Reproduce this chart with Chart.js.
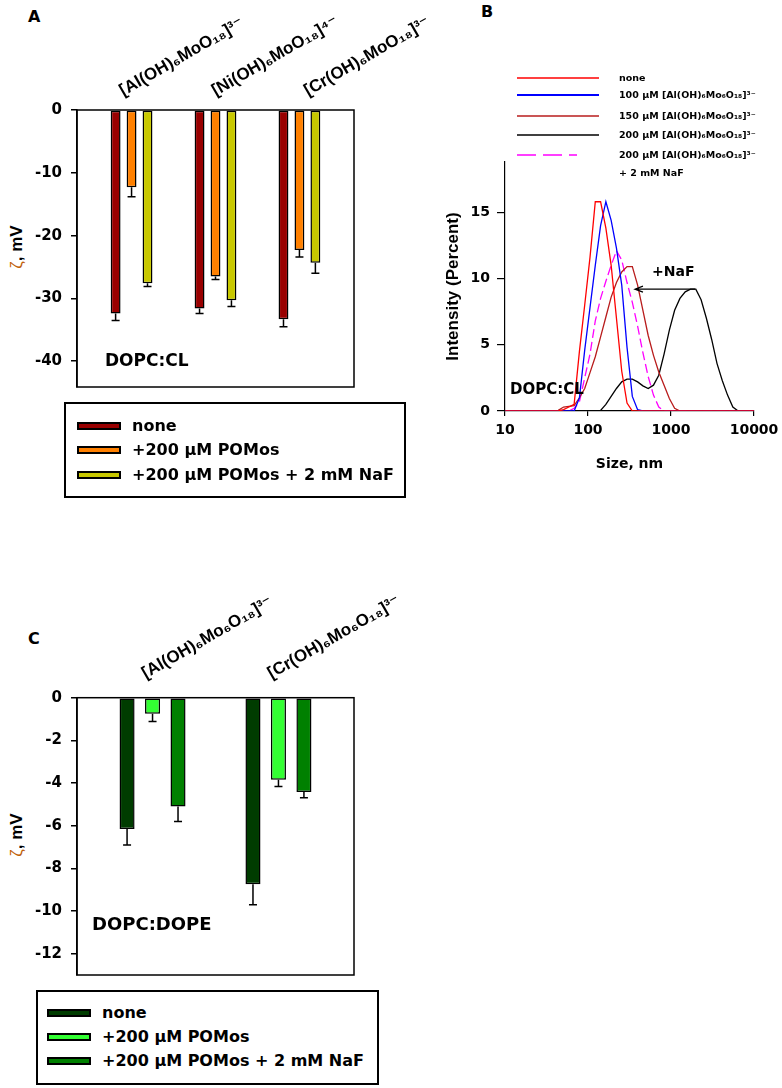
<!DOCTYPE html>
<html>
<head>
<meta charset="utf-8">
<title>Zeta potential and size distribution</title>
<script src="https://cdn.jsdelivr.net/npm/chart.js@4.4.1/dist/chart.umd.min.js"></script>
<style>
  body { margin: 0; background: #fff; }
  #page { position: relative; width: 782px; height: 1088px; overflow: hidden; color: #000; font-family: "DejaVu Sans", sans-serif; }
  .pane { position: absolute; }
  .tag { position: absolute; font: bold 16px "DejaVu Sans"; line-height: 1; }
  .ytitle { position: absolute; white-space: nowrap; font: bold 17px "Liberation Sans"; line-height: 1; transform: translate(-50%, -50%) rotate(-90deg); }
  .zeta { color: #c0600a; font-weight: normal; }
  .legend { position: absolute; border: 2px solid #000; box-sizing: border-box; }
  .legend .sw { position: absolute; width: 40px; height: 4px; border: 2px solid #000; }
  .legend .tx { position: absolute; font: bold 16px "DejaVu Sans"; line-height: 1; white-space: nowrap; transform: translateY(-50%); }
  .lgB { position: absolute; font: bold 9.5px "DejaVu Sans"; line-height: 1; white-space: nowrap; transform: translateY(-50%); }
</style>
</head>
<body>
<div id="page">
  <div class="tag" style="left:28px;top:9px">A</div>
  <div class="tag" style="left:481px;top:4px">B</div>
  <div class="tag" style="left:28px;top:631px">C</div>
  <div class="ytitle" style="left:16px;top:247px"><span class="zeta">ζ</span>, mV</div>
  <div class="ytitle" style="left:16px;top:835px"><span class="zeta">ζ</span>, mV</div>
  <div class="pane" style="left:0;top:0;width:460px;height:400px"><canvas id="chartA"></canvas></div>
  <div class="pane" style="left:400px;top:0;width:382px;height:480px"><canvas id="chartB"></canvas></div>
  <div class="pane" style="left:0;top:560px;width:460px;height:430px"><canvas id="chartC"></canvas></div>
  <div class="legend" id="legendA" style="left:64px;top:402px;width:342px;height:96px"></div>
  <div class="legend" id="legendC" style="left:36px;top:990px;width:343px;height:95px"></div>
  <div id="legendB"></div>
</div>
<script>
// ---- panel A : zeta potential, DOPC:CL
var catA = ['[Al(OH)₆MoO₁₈]³⁻', '[Ni(OH)₆MoO₁₈]⁴⁻', '[Cr(OH)₆MoO₁₈]³⁻'];
var seriesNames = ['none', '+200 µM POMos', '+200 µM POMos + 2 mM NaF'];
var noneA = [-32.4, -31.6, -33.3];
var pomA = [-12.3, -26.5, -22.3];
var nafA = [-27.6, -30.3, -24.3];
var noneAErr = [1.1, 0.8, 1.2];
var pomAErr = [1.5, 0.5, 1.1];
var nafAErr = [0.5, 1.0, 1.7];
var ticksA = [-40, -30, -20, -10, 0];
var colorsA = ['#990000', '#ff8000', '#c8c800'];

// ---- panel C : zeta potential, DOPC:DOPE
var catC = ['[Al(OH)₆Mo₆O₁₈]³⁻', '[Cr(OH)₆Mo₆O₁₈]³⁻'];
var noneC = [-6.15, -8.75];
var pomC = [-0.75, -3.85];
var nafC = [-5.1, -4.42];
var noneCErr = [0.75, 0.96];
var pomCErr = [0.37, 0.31];
var nafCErr = [0.7, 0.27];
var ticksC = [-12, -10, -8, -6, -4, -2, 0];
var colorsC = ['#003c00', '#33ff33', '#008000'];

// ---- panel B : DLS size distributions (nm vs intensity %)
var sizes = [10.1, 11.7, 13.54, 15.69, 18.17, 21.04, 24.36, 28.21, 32.67, 37.84, 43.82, 50.75,
  58.77, 68.06, 78.82, 91.28, 105.7, 122.4, 141.8, 164.2, 190.1, 220.2, 255.0, 295.3,
  342.0, 396.1, 458.7, 531.2, 615.1, 712.4, 825.0, 955.4, 1106, 1281, 1484, 1718,
  1990, 2305, 2669, 3091, 3580, 4145, 4801, 5560, 6439, 7456, 8635, 10000];
var curveNone = [0, 0, 0, 0, 0, 0, 0, 0, 0, 0, 0, 0.1,
  0.3, 0.5, 4.5, 8.0, 11.6, 15.8, 15.8, 13.8, 11.0, 7.0, 3.0, 0.6,
  0, 0, 0, 0, 0, 0, 0, 0, 0, 0, 0, 0,
  0, 0, 0, 0, 0, 0, 0, 0, 0, 0, 0, 0];
var curve100 = [0, 0, 0, 0, 0, 0, 0, 0, 0, 0, 0, 0,
  0, 0, 1.0, 4.6, 7.8, 11.0, 14.0, 15.8, 14.4, 12.3, 9.5, 4.8,
  1.1, 0.1, 0, 0, 0, 0, 0, 0, 0, 0, 0, 0,
  0, 0, 0, 0, 0, 0, 0, 0, 0, 0, 0, 0];
var curve150 = [0, 0, 0, 0, 0, 0, 0, 0, 0, 0, 0.05, 0.3,
  0.35, 0.4, 1.0, 1.7, 2.9, 4.1, 5.6, 7.1, 8.6, 9.7, 10.5, 10.9,
  10.9, 9.5, 7.6, 5.7, 4.2, 2.95, 1.95, 0.94, 0.2, 0, 0, 0,
  0, 0, 0, 0, 0, 0, 0, 0, 0, 0, 0, 0];
var curve200 = [0, 0, 0, 0, 0, 0, 0, 0, 0, 0, 0, 0,
  0, 0, 0, 0, 0, 0, 0.05, 0.5, 1.1, 1.7, 2.2, 2.4,
  2.4, 2.2, 1.9, 1.7, 1.95, 2.7, 4.3, 6.1, 7.6, 8.5, 9.0, 9.2,
  9.2, 8.4, 7.0, 5.4, 3.6, 2.3, 1.2, 0.3, 0, 0, 0, 0];
var curveNaF = [0, 0, 0, 0, 0, 0, 0, 0, 0, 0, 0, 0,
  0, 0.2, 0.7, 2.5, 4.3, 6.8, 8.5, 9.8, 11.0, 12.1, 11.4, 9.7,
  8.2, 6.4, 4.4, 2.6, 1.2, 0.3, 0, 0, 0, 0, 0, 0,
  0, 0, 0, 0, 0, 0, 0, 0, 0, 0, 0, 0];
var legendB = ['none', '100 µM [Al(OH)₆Mo₆O₁₈]³⁻', '150 µM [Al(OH)₆Mo₆O₁₈]³⁻',
  '200 µM [Al(OH)₆Mo₆O₁₈]³⁻', '200 µM [Al(OH)₆Mo₆O₁₈]³⁻'];
var colorsB = ['#ff0000', '#0000ff', '#b81c1c', '#000000', '#ff00ff'];
var ticksBx = [10, 100, 1000, 10000];
var ticksBy = [0, 5, 10, 15];

Chart.defaults.color = '#000';
var tickFont = { family: "'DejaVu Sans', sans-serif", size: 15, weight: 'bold' };
var catFont = { family: "'Liberation Sans', 'DejaVu Sans', sans-serif", size: 17, weight: 'bold' };

function groupData(values) {
  return values.map(function (v, i) { return { x: i + 1, y: v }; });
}
function fixedTicks(list) {
  return function (scale) { scale.ticks = list.map(function (v) { return { value: v }; }); };
}

// box round the plot area
var frame = {
  id: 'frame',
  afterDraw: function (chart) {
    var a = chart.chartArea, ctx = chart.ctx;
    ctx.save();
    ctx.strokeStyle = '#000';
    ctx.lineWidth = 1.5;
    ctx.strokeRect(a.left, a.top, a.right - a.left, a.bottom - a.top);
    ctx.restore();
  }
};

// one-sided error bars under each bar
function errorBars(errs) {
  return {
    id: 'errorBars',
    afterDatasetsDraw: function (chart) {
      var ctx = chart.ctx, y = chart.scales.y;
      ctx.save();
      ctx.strokeStyle = '#000';
      ctx.lineWidth = 1.5;
      chart.data.datasets.forEach(function (ds, i) {
        chart.getDatasetMeta(i).data.forEach(function (bar, j) {
          var v = ds.data[j].y;
          var y0 = y.getPixelForValue(v), y1 = y.getPixelForValue(v - errs[i][j]);
          ctx.beginPath();
          ctx.moveTo(bar.x, y0);
          ctx.lineTo(bar.x, y1);
          ctx.moveTo(bar.x - 4, y1);
          ctx.lineTo(bar.x + 4, y1);
          ctx.stroke();
        });
      });
      ctx.restore();
    }
  };
}

function note(text, font, dx, dy) {
  return {
    id: 'note',
    afterDraw: function (chart) {
      var a = chart.chartArea, ctx = chart.ctx;
      ctx.save();
      ctx.font = font;
      ctx.fillStyle = '#000';
      ctx.textBaseline = 'middle';
      ctx.fillText(text, a.left + dx, a.bottom - dy);
      ctx.restore();
    }
  };
}

function barOptions(yMin, ticks, cp, bp) {
  return {
    responsive: true,
    maintainAspectRatio: false,
    animation: false,
    layout: { padding: { left: 30, top: 0, right: 106, bottom: 13 } },
    datasets: { bar: { borderColor: '#000', borderWidth: 1.5, borderSkipped: false, categoryPercentage: cp, barPercentage: bp } },
    plugins: { legend: { display: false }, tooltip: { enabled: false } },
    scales: {
      y: {
        min: yMin, max: 0,
        afterBuildTicks: fixedTicks(ticks),
        afterFit: function (s) { s.width = 47; s.paddingTop = 0; s.paddingBottom = 0; },
        ticks: { font: tickFont, padding: 9 },
        grid: { drawOnChartArea: false, tickLength: 6, color: '#000', lineWidth: 1.5 },
        border: { color: '#000', width: 1.5 }
      }
    }
  };
}

// ---------- chart A
var optA = barOptions(-44.1, ticksA, 0.57, 0.62);
optA.scales.x = {
  type: 'linear', min: 0.35, max: 3.65, offset: false, display: false,
  afterBuildTicks: fixedTicks([1, 2, 3])
};
optA.scales.top = {
  type: 'category', labels: catA, position: 'top', offset: true,
  grid: { display: false, drawTicks: false }, border: { display: false },
  ticks: { font: catFont, minRotation: 30, maxRotation: 30, autoSkip: false, padding: 9, labelOffset: 8 },
  afterFit: function (s) { s.height = 110; s.paddingLeft = 0; s.paddingRight = 0; }
};
new Chart(document.getElementById('chartA'), {
  type: 'bar',
  data: {
    datasets: [
      { label: seriesNames[0], data: groupData(noneA), backgroundColor: colorsA[0], xAxisID: 'x' },
      { label: seriesNames[1], data: groupData(pomA), backgroundColor: colorsA[1], xAxisID: 'x' },
      { label: seriesNames[2], data: groupData(nafA), backgroundColor: colorsA[2], xAxisID: 'x' }
    ]
  },
  options: optA,
  plugins: [frame, errorBars([noneAErr, pomAErr, nafAErr]), note('DOPC:CL', "bold 17px 'DejaVu Sans'", 28, 25)]
});

// ---------- chart C
var optC = barOptions(-13, ticksC, 0.607, 0.59);
optC.layout.padding.bottom = 15;
optC.scales.x = {
  type: 'linear', min: 0.4, max: 2.6, offset: false, position: 'top',
  afterBuildTicks: fixedTicks([1, 2]),
  grid: { display: false, drawTicks: false }, border: { display: false },
  ticks: {
    font: catFont, minRotation: 30, maxRotation: 30, autoSkip: false, padding: 14, labelOffset: 1,
    callback: function (v) { return catC[v - 1]; }
  },
  afterFit: function (s) { s.height = 137.7; s.paddingLeft = 0; s.paddingRight = 0; }
};
new Chart(document.getElementById('chartC'), {
  type: 'bar',
  data: {
    datasets: [
      { label: seriesNames[0], data: groupData(noneC), backgroundColor: colorsC[0] },
      { label: seriesNames[1], data: groupData(pomC), backgroundColor: colorsC[1] },
      { label: seriesNames[2], data: groupData(nafC), backgroundColor: colorsC[2] }
    ]
  },
  options: optC,
  plugins: [frame, errorBars([noneCErr, pomCErr, nafCErr]), note('DOPC:DOPE', "bold 18px 'DejaVu Sans'", 15, 50)]
});

// ---------- chart B
function curve(values) {
  return values.map(function (v, i) { return { x: sizes[i], y: v }; });
}
var curvesB = [curveNone, curve100, curve150, curve200, curveNaF];
var arrowB = {
  id: 'arrowB',
  afterDraw: function (chart) {
    var ctx = chart.ctx, x = chart.scales.x, y = chart.scales.y, a = chart.chartArea;
    var yy = y.getPixelForValue(9.2), x0 = x.getPixelForValue(1946), x1 = x.getPixelForValue(368);
    ctx.save();
    ctx.strokeStyle = '#000';
    ctx.lineWidth = 1.2;
    ctx.beginPath();
    ctx.moveTo(x0, yy); ctx.lineTo(x1, yy);
    ctx.moveTo(x1 + 8, yy - 3); ctx.lineTo(x1, yy); ctx.lineTo(x1 + 8, yy + 3);
    ctx.stroke();
    ctx.fillStyle = '#000';
    ctx.textBaseline = 'middle';
    ctx.font = "bold 14px 'DejaVu Sans'";
    ctx.fillText('+NaF', a.left + 147, a.top + 110);
    ctx.font = "bold 15px 'DejaVu Sans'";
    ctx.fillText('DOPC:CL', a.left + 5, a.bottom - 21);
    ctx.restore();
  }
};
var axisFontB = { family: "'DejaVu Sans', sans-serif", size: 14, weight: 'bold' };
new Chart(document.getElementById('chartB'), {
  type: 'line',
  data: {
    datasets: curvesB.map(function (c, i) {
      return {
        label: legendB[i], data: curve(c), borderColor: colorsB[i],
        borderWidth: 1.3, borderDash: i === 4 ? [9, 4] : [], pointRadius: 0, tension: 0, fill: false
      };
    })
  },
  options: {
    responsive: true,
    maintainAspectRatio: false,
    animation: false,
    layout: { padding: { left: 39, top: 162, right: 28, bottom: 3 } },
    plugins: { legend: { display: false }, tooltip: { enabled: false } },
    scales: {
      x: {
        type: 'logarithmic', min: 10, max: 10000,
        afterBuildTicks: fixedTicks(ticksBx),
        afterFit: function (s) { s.height = 66; s.paddingLeft = 0; s.paddingRight = 0; },
        ticks: { font: axisFontB, padding: 6, maxRotation: 0, callback: function (v) { return String(v); } },
        grid: { drawOnChartArea: false, tickLength: 5, color: '#000', lineWidth: 1.2 },
        border: { color: '#000', width: 1.2 },
        title: { display: true, text: 'Size, nm', font: axisFontB, padding: { top: 4, bottom: 4 } }
      },
      y: {
        min: 0, max: 18.8,
        afterBuildTicks: fixedTicks(ticksBy),
        afterFit: function (s) { s.width = 66; s.paddingTop = 0; s.paddingBottom = 0; },
        ticks: { font: axisFontB, padding: 7 },
        grid: { drawOnChartArea: false, tickLength: 8, color: '#000', lineWidth: 1.2 },
        border: { color: '#000', width: 1.2 },
        title: { display: true, text: 'Intensity (Percent)', font: { family: "'Liberation Sans', sans-serif", size: 17, weight: 'bold' }, padding: { top: 4, bottom: 4 } }
      }
    }
  },
  plugins: [arrowB]
});

// ---------- HTML legends
function boxLegend(id, colors, swLeft, txLeft, rows) {
  var box = document.getElementById(id);
  seriesNames.forEach(function (name, i) {
    var sw = document.createElement('div');
    sw.className = 'sw';
    sw.style.left = swLeft + 'px';
    sw.style.top = (rows[i] - 4) + 'px';
    sw.style.background = colors[i];
    box.appendChild(sw);
    var tx = document.createElement('div');
    tx.className = 'tx';
    tx.style.left = txLeft + 'px';
    tx.style.top = rows[i] + 'px';
    tx.textContent = name;
    box.appendChild(tx);
  });
}
boxLegend('legendA', colorsA, 11, 66, [21.5, 46, 71]);
boxLegend('legendC', colorsC, 9, 64, [20.7, 44.7, 69]);

var holder = document.getElementById('legendB');
var rowsB = [78, 95, 115.5, 134.5, 155];
legendB.forEach(function (name, i) {
  var svg = document.createElementNS('http://www.w3.org/2000/svg', 'svg');
  svg.setAttribute('width', 84);
  svg.setAttribute('height', 6);
  svg.style.position = 'absolute';
  svg.style.left = '516px';
  svg.style.top = (rowsB[i] - 3) + 'px';
  var ln = document.createElementNS('http://www.w3.org/2000/svg', 'line');
  ln.setAttribute('x1', 1); ln.setAttribute('x2', i === 4 ? 61 : 83);
  ln.setAttribute('y1', 3); ln.setAttribute('y2', 3);
  ln.setAttribute('stroke', colorsB[i]);
  ln.setAttribute('stroke-width', i === 1 ? 2 : 1.6);
  if (i === 4) ln.setAttribute('stroke-dasharray', '19 7');
  svg.appendChild(ln);
  holder.appendChild(svg);
  var tx = document.createElement('div');
  tx.className = 'lgB';
  tx.style.left = '619px';
  tx.style.top = rowsB[i] + 'px';
  tx.textContent = name;
  holder.appendChild(tx);
});
var extra = document.createElement('div');
extra.className = 'lgB';
extra.style.left = '619px';
extra.style.top = '172.5px';
extra.textContent = '+ 2 mM NaF';
holder.appendChild(extra);
</script>
</body>
</html>
